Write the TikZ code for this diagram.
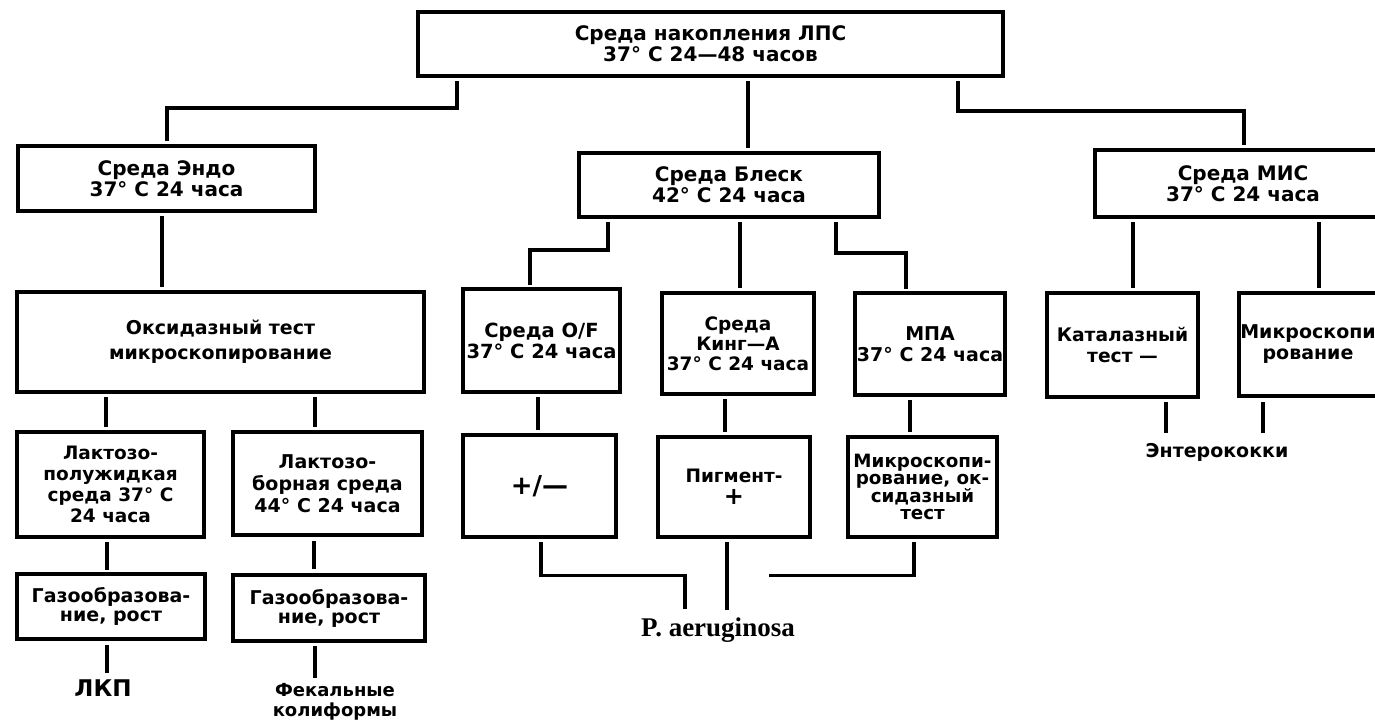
\documentclass[tikz,border=0pt]{standalone}
\usepackage{fontspec}
\setmainfont{DejaVu Sans}
\newfontfamily\serifP{Liberation Serif}
\usetikzlibrary{calc}
\newcommand{\fs}[2]{\bfseries\fontsize{#1}{#2}\selectfont}
\begin{document}
\begin{tikzpicture}[x=1pt,y=-1pt,
 box/.style={draw,line width=3.3pt,inner sep=0pt,outer sep=0pt,align=center,font=\fs{20}{21}},
 conn/.style={line width=3.3pt},
 lbl/.style={inner sep=2pt,align=center,font=\fs{19}{20}}]
\useasboundingbox[fill=white] (0,0) rectangle (1375,725);

% boxes
\node[box,minimum width=585pt,minimum height=64pt] (top) at (710.5,44) {Среда накопления ЛПС\\37° С 24—48 часов};
\node[box,minimum width=297pt,minimum height=65pt] (endo) at (166.5,178.5) {Среда Эндо\\37° С 24 часа};
\node[box,minimum width=300pt,minimum height=64pt] (bleck) at (729,185) {Среда Блеск\\42° С 24 часа};
\node[box,minimum width=296pt,minimum height=67pt] (mhc) at (1243,183.5) {Среда МИС\\37° С 24 часа};
\node[box,minimum width=407pt,minimum height=100pt,font=\fs{19}{25}] (oxid) at (220.5,342) {Оксидазный тест\\микроскопирование};
\node[box,minimum width=157pt,minimum height=103pt,font=\fs{19.5}{21}] (of) at (541.5,340.5) {Среда O/F\\37° С 24 часа};
\node[box,minimum width=152pt,minimum height=101pt,font=\fs{18.5}{20}] (king) at (738,343.5) {Среда\\Кинг—А\\37° С 24 часа};
\node[box,minimum width=150pt,minimum height=102pt,font=\fs{19}{21}] (mpa) at (930,344) {МПА\\37° С 24 часа};
\node[box,minimum width=151pt,minimum height=104pt,font=\fs{18.7}{21}] (cat) at (1122.5,345) {Каталазный\\тест —};
\node[box,minimum width=150pt,minimum height=103pt,label={[lbl,font=\fs{19}{21},xshift=-6pt]center:{Микроскопи\\рование}}] (mic2) at (1314,344.5) {};
\node[box,minimum width=187pt,minimum height=105pt,font=\fs{18.5}{21}] (lac1) at (110.5,484.5) {Лактозо-\\полужидкая\\среда 37° С\\24 часа};
\node[box,minimum width=189pt,minimum height=103pt,font=\fs{19}{22}] (lac2) at (327.5,483.5) {Лактозо-\\борная среда\\44° С 24 часа};
\node[box,minimum width=188pt,minimum height=65pt,font=\fs{19}{19}] (gas1) at (111,606.5) {Газообразова-\\ние, рост};
\node[box,minimum width=192pt,minimum height=66pt,font=\fs{19}{19}] (gas2) at (329,608) {Газообразова-\\ние, рост};
\node[box,minimum width=153pt,minimum height=102pt,font=\fs{26}{26}] (pm) at (539.5,486) {+/—};
\node[box,minimum width=152pt,minimum height=100pt,font=\fs{18.5}{22}] (pig) at (734,487) {Пигмент-\\{\fontsize{24}{22}\selectfont +}};
\node[box,minimum width=149pt,minimum height=100pt,font=\fs{18.3}{16.5}] (mic) at (922.5,487) {Микроскопи-\\рование, ок-\\сидазный\\тест};

% free labels
\node[lbl,font=\fs{23}{24}] (lkp) at (103,688) {ЛКП};
\node[lbl,font=\fs{18}{20}] (fec) at (335,702) {Фекальные\\колиформы};
\node[lbl,font=\serifP\fs{27}{28}] (paer) at (718,630) {P. aeruginosa};
\node[lbl] (entero) at (1217,452) {Энтерококки};

% connectors from the top box
\draw[conn] ($(top.south west)+(39,5)$) |- ($(endo.north)+(0.5,-38)$) -- ($(endo.north)+(0.5,-5)$);
\draw[conn] ($(top.south)+(37.5,5)$) -- ($(bleck.north)+(19,-5)$);
\draw[conn] ($(top.south east)+(-45,5)$) |- ($(mhc.north)+(1,-39)$) -- ($(mhc.north)+(1,-5)$);

% Endo branch
\draw[conn] ($(endo.south)+(-4.5,5)$) -- ($(oxid.north)+(-58.5,-5)$);
\draw[conn] ($(oxid.south)+(-114.5,5)$) -- ($(lac1.north)+(-4.5,-5)$);
\draw[conn] ($(oxid.south)+(94.5,5)$) -- ($(lac2.north)+(-12.5,-5)$);
\draw[conn] ($(lac1.south)+(-3.5,5)$) -- ($(gas1.north)+(-4,-4)$);
\draw[conn] ($(lac2.south)+(-13.5,6)$) -- ($(gas2.north)+(-15,-6)$);
\draw[conn] ($(gas1.south)+(-4,6)$) -- ($(lkp.north)+(4,-4)$);
\draw[conn] ($(gas2.south)+(-14,5)$) -- ($(fec.north)+(-20,-3)$);

% Bleck branch
\draw[conn] ($(bleck.south)+(-121,5)$) |- ($(of.north)+(-11.5,-39)$) -- ($(of.north)+(-11.5,-4)$);
\draw[conn] ($(bleck.south)+(11,5)$) -- ($(king.north)+(2,-5)$);
\draw[conn] ($(bleck.south)+(107,5)$) |- ($(mpa.north)+(-24,-40)$) -- ($(mpa.north)+(-24,-4)$);
\draw[conn] ($(of.south)+(-3.5,5)$) -- ($(pm.north)+(-1.5,-5)$);
\draw[conn] ($(king.south)+(-13,5)$) -- ($(pig.north)+(-9,-5)$);
\draw[conn] ($(mpa.south)+(-20,5)$) -- ($(mic.north)+(-12.5,-5)$);
\draw[conn] ($(pm.south)+(1.5,5)$) |- ($(paer.north)+(-33,-40)$) -- ($(paer.north)+(-33,-6)$);
\draw[conn] ($(pig.south)+(-7,5)$) -- ($(paer.north)+(9,-5)$);
\draw[conn] ($(mic.south)+(-8.5,5)$) |- ($(paer.north)+(51,-40)$);

% MIS branch
\draw[conn] ($(mhc.south)+(-110,5)$) -- ($(cat.north)+(10.5,-5)$);
\draw[conn] ($(mhc.south)+(76,5)$) -- ($(mic2.north)+(5,-5)$);
\draw[conn] ($(cat.south)+(43.5,5)$) -- ($(entero.north)+(-51,-8)$);
\draw[conn] ($(mic2.south)+(-51,6)$) -- ($(entero.north)+(46,-8)$);
\end{tikzpicture}
\end{document}
